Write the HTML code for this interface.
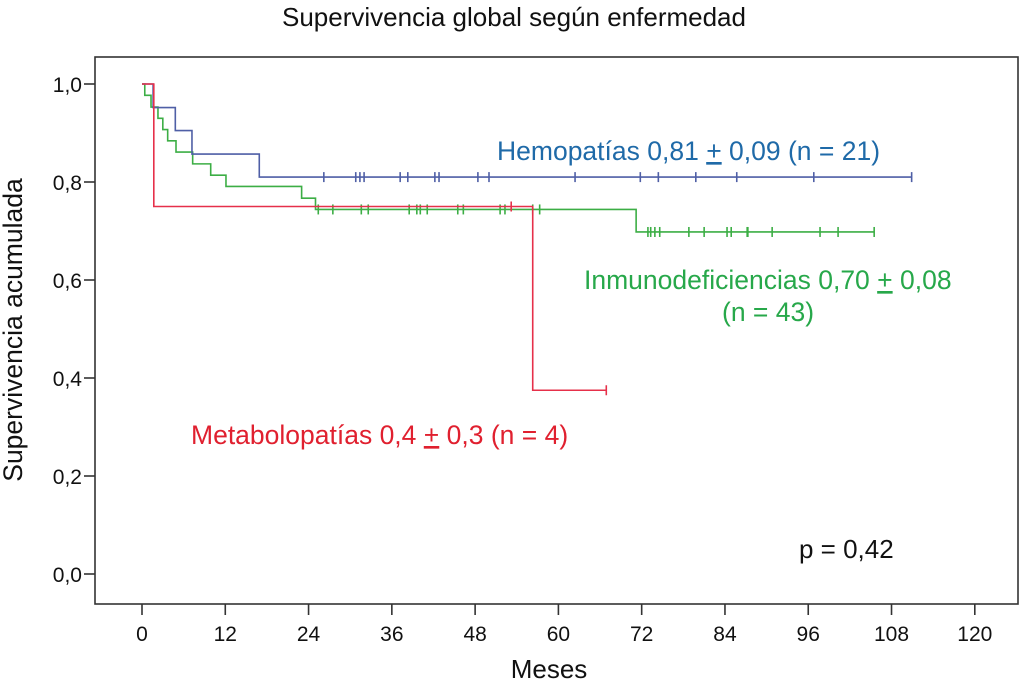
<!DOCTYPE html>
<html><head><meta charset="utf-8"><style>
html,body{margin:0;padding:0;background:#fff;}
svg{display:block;font-family:"Liberation Sans",Arial,sans-serif;}
</style></head><body>
<svg id="chart" width="1024" height="685" viewBox="0 0 1024 685">
<text x="514" y="26" font-size="26" text-anchor="middle" fill="#111">Supervivencia global según enfermedad</text>
<rect x="95" y="57" width="923" height="547" fill="none" stroke="#333" stroke-width="1.6"/>
<g id="axes"></g>
<g id="series"></g>
<text transform="translate(22,330) rotate(-90)" font-size="26.5" text-anchor="middle" fill="#111">Supervivencia acumulada</text>
<text x="549" y="678" font-size="26" text-anchor="middle" fill="#111">Meses</text>
<text x="497" y="160" font-size="26.5" fill="#1f6aa8">Hemopatías 0,81 <tspan text-decoration="underline">+</tspan> 0,09 (n = 21)</text>
<text x="584" y="289" font-size="26.5" fill="#27a84a">Inmunodeficiencias 0,70 <tspan text-decoration="underline">+</tspan> 0,08</text>
<text x="722" y="321" font-size="26.5" fill="#27a84a">(n = 43)</text>
<text x="191" y="444" font-size="26.5" fill="#e0202f">Metabolopatías 0,4 <tspan text-decoration="underline">+</tspan> 0,3 (n = 4)</text>
<text x="799" y="558" font-size="26" fill="#111">p = 0,42</text>
</svg>
<script>
const xTicks=[0,12,24,36,48,60,72,84,96,108,120];
const yTicks=[0,0.2,0.4,0.6,0.8,1.0];
const yTickLabels=["0,0","0,2","0,4","0,6","0,8","1,0"];
const blueTimes=[0,1.6,4.8,7.2,16.9,110.9];
const blueSurv=[1.0,0.952,0.905,0.857,0.81,0.81];
const blueCensor=[26.2,30.8,31.4,32.0,37.2,38.3,42.2,42.8,48.4,50.0,62.4,71.8,74.4,79.8,85.7,96.8,110.9];
const greenTimes=[0,0.4,1.3,2.3,3.0,3.7,4.9,7.3,9.9,12.1,23.0,25.0,71.2,105.5];
const greenSurv=[1.0,0.977,0.953,0.93,0.907,0.884,0.861,0.837,0.814,0.791,0.767,0.744,0.698,0.698];
const greenCensor1=[25.4,27.5,31.6,32.6,38.5,39.6,40.1,41.1,45.5,46.3,51.6,52.3,56.3,57.3];
const greenCensor2=[72.9,73.3,73.9,74.6,78.8,81.0,84.3,84.9,87.2,87.3,90.8,97.7,100.3,105.5];
const redTimes=[0,1.7,56.3,66.9];
const redSurv=[1.0,0.75,0.375,0.375];
const redCensor=[53.2,66.9];

const NS="http://www.w3.org/2000/svg";
const X=m=>142+m*6.94;
const Y=s=>574-s*490;
function mk(tag,attrs,parent){const e=document.createElementNS(NS,tag);for(const k in attrs)e.setAttribute(k,attrs[k]);parent.appendChild(e);return e;}
const axes=document.getElementById('axes');
xTicks.forEach(t=>{
  const l=mk('line',{x1:X(t),x2:X(t),y1:604,y2:615,stroke:'#333','stroke-width':1.6},axes);
  
  
  const tx=mk('text',{x:X(t),y:641,'font-size':21,'text-anchor':'middle',fill:'#111'},axes);
  tx.textContent=t;
  
  
});
yTicks.forEach((t,i)=>{
  const l=mk('line',{x1:84,x2:95,y1:Y(t),y2:Y(t),stroke:'#333','stroke-width':1.6},axes);
  
  
  const tx=mk('text',{x:82,y:Y(t)+8,'font-size':21,'text-anchor':'end',fill:'#111'},axes);
  tx.textContent=yTickLabels[i];
  
  
});
const g=document.getElementById('series');
function step(times,surv,color,name){
  let d='M'+X(times[0])+','+Y(surv[0]);
  for(let i=1;i<times.length;i++){d+=' H'+X(times[i])+' V'+Y(surv[i]);}
  const p=mk('path',{d:d,fill:'none',stroke:color,'stroke-width':1.6},g);
  
  
}
function censor(ts,times,surv,color,name){
  ts.forEach(t=>{
    let s=surv[0];
    for(let i=0;i<times.length;i++){if(times[i]<=t)s=surv[i];}
    const l=mk('line',{x1:X(t),x2:X(t),y1:Y(s)-5,y2:Y(s)+5,stroke:color,'stroke-width':1.6},g);
    
    
  });
}
step(greenTimes,greenSurv,'#3cae45','inmunodeficiencias-curve');
censor(greenCensor1.concat(greenCensor2),greenTimes,greenSurv,'#3cae45','inmunodeficiencias-censor');
step(blueTimes,blueSurv,'#4f5fa6','hemopatias-curve');
censor(blueCensor,blueTimes,blueSurv,'#4f5fa6','hemopatias-censor');
step(redTimes,redSurv,'#e6304a','metabolopatias-curve');
censor(redCensor,redTimes,redSurv,'#e6304a','metabolopatias-censor');
</script>
</body></html>
